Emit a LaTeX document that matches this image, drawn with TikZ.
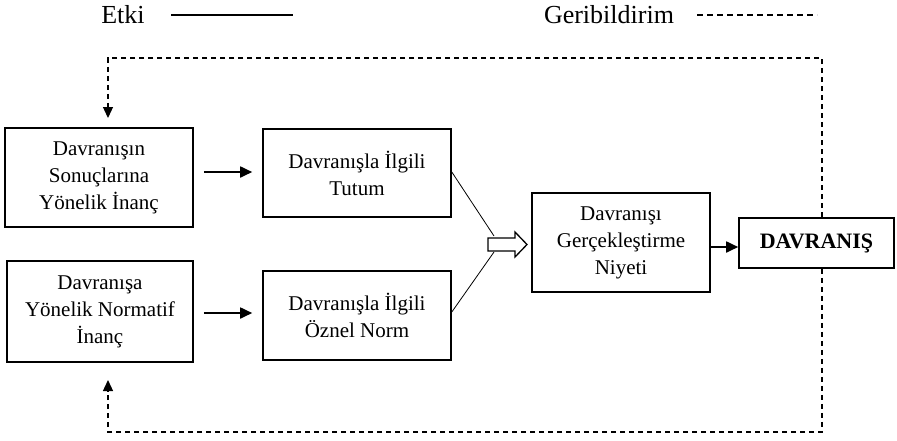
\documentclass[tikz,border=0pt]{standalone}
\usepackage{fontspec}
\setmainfont{Liberation Serif}
\usetikzlibrary{arrows.meta}
\tikzset{
  box/.style={draw, line width=1.6pt, align=center, inner sep=0pt, font=\fontsize{21}{27}\selectfont},
  arr/.style={line width=1.8pt, -{Triangle[length=12pt,width=11pt]}},
  fb/.style={line width=1.3pt, dash pattern=on 5pt off 4pt},
  fbarr/.style={fb, -{Triangle[length=11pt,width=10pt]}},
  thin/.style={line width=0.8pt},
  legend/.style={font=\fontsize{26}{30}\selectfont, inner sep=0pt, anchor=base}
}
\begin{document}
\begin{tikzpicture}[x=1pt,y=-1pt]
\useasboundingbox (0,0) rectangle (897,440);
% legend
\node[legend] (etki) at (123,23) {Etki};
\coordinate (el1) at (171,15);
\coordinate (el2) at (293,15);
\draw[line width=1.5pt] (el1) -- (el2);
\node[legend] (geri) at (609,23) {Geribildirim};
\coordinate (gl1) at (697,15);
\coordinate (gl2) at (817,15);
\draw[line width=1.3pt, dash pattern=on 6pt off 4pt] (gl1) -- (gl2);
% boxes
\node[box, minimum width=188pt, minimum height=99pt] (A) at (99,177.5) {Davranışın\\Sonuçlarına\\Yönelik İnanç};
\node[box, minimum width=188pt, minimum height=88pt] (B) at (357,173) {Davranışla İlgili\\Tutum};
\node[box, minimum width=186pt, minimum height=101pt] (C) at (100,311.5) {Davranışa\\Yönelik Normatif\\İnanç};
\node[box, minimum width=188pt, minimum height=89pt] (D) at (357,315.5) {Davranışla İlgili\\Öznel Norm};
\node[box, minimum width=178pt, minimum height=99pt] (E) at (621,242.5) {Davranışı\\Gerçekleştirme\\Niyeti};
\node[box, minimum width=155pt, minimum height=50pt, font=\fontsize{22}{26}\selectfont\bfseries] (F) at (816.5,243) {DAVRANIŞ};
% solid arrows
\draw[arr] ([xshift=10pt]A.east |- 0,172) -- ([xshift=-10pt]B.west |- 0,172);
\draw[arr] ([xshift=10pt]C.east |- 0,313) -- ([xshift=-10pt]D.west |- 0,313);
\draw[arr] (E.east |- 0,247) -- (F.west |- 0,247);
% converging thin lines
\coordinate (jt) at (494,236);
\coordinate (jb) at (494,252);
\draw[thin] (B.east |- 0,172) -- (jt);
\draw[thin] (D.east |- 0,312) -- (jb);
% hollow arrow
\coordinate (h1) at (488,238);
\coordinate (h2) at (515,238);
\coordinate (h3) at (515,232);
\coordinate (h4) at (527,244.5);
\coordinate (h5) at (515,257);
\coordinate (h6) at (515,251);
\coordinate (h7) at (488,251);
\draw[line width=1.3pt, fill=white, line join=miter] (h1) -- (h2) -- (h3) -- (h4) -- (h5) -- (h6) -- (h7) -- cycle;
% feedback
\coordinate (tl) at (108,58);
\coordinate (tr) at (822,58);
\coordinate (ta) at (108,118);
\coordinate (bl) at (108,432);
\coordinate (br) at (822,432);
\coordinate (ba) at (108,380);
\draw[fbarr] (tr |- F.north) -- (tr) -- (tl) -- (ta);
\draw[fbarr] (br |- F.south) -- (br) -- (bl) -- (ba);
\end{tikzpicture}
\end{document}
